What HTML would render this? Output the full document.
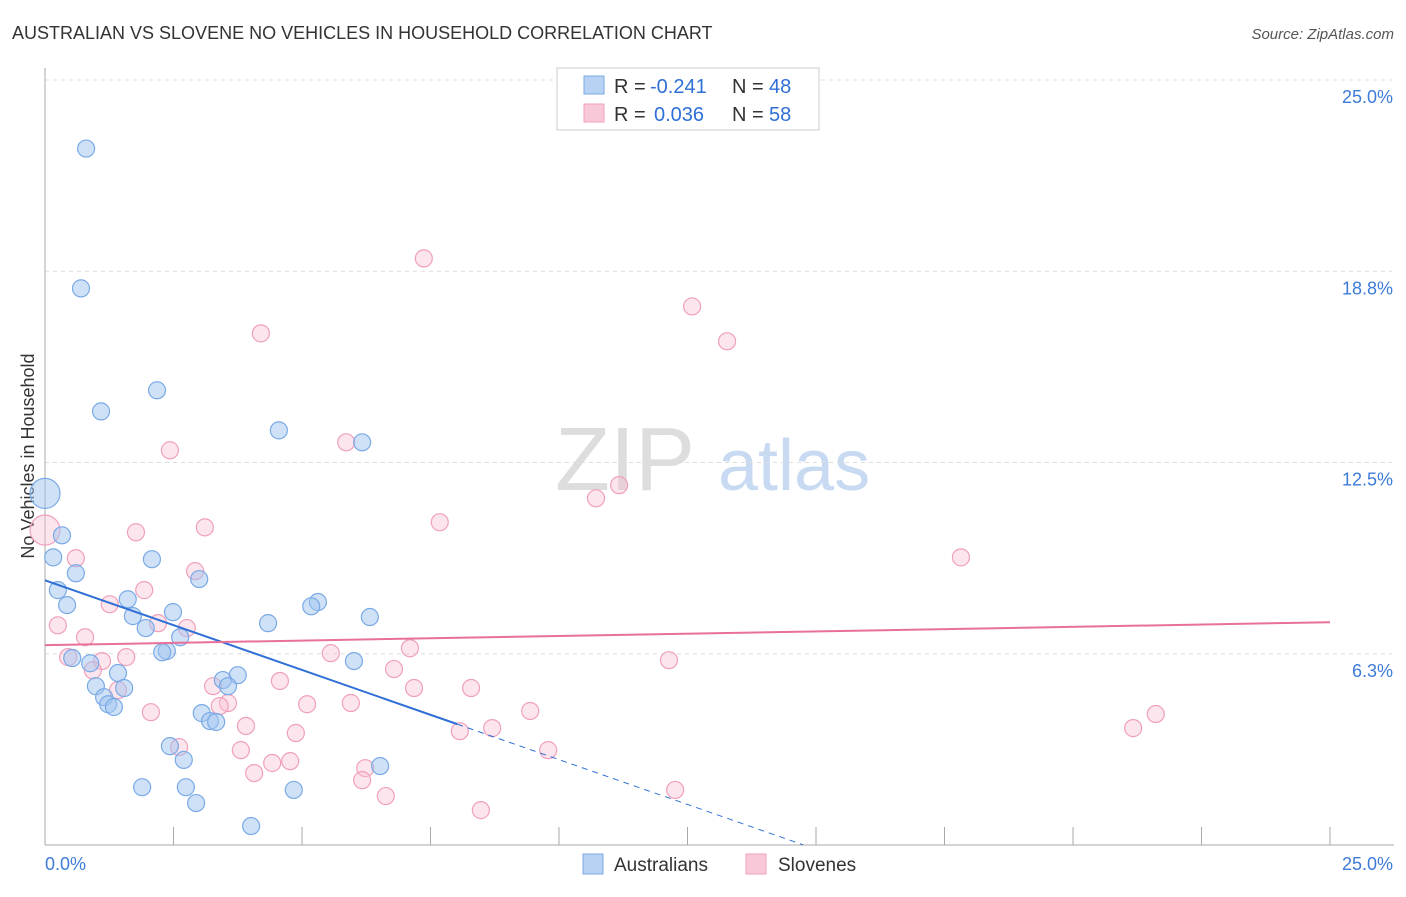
<!DOCTYPE html>
<html><head><meta charset="utf-8"><style>
body{margin:0;background:#fff;font-family:"Liberation Sans",sans-serif;}
svg text{font-family:"Liberation Sans",sans-serif;}
</style></head><body>
<svg id="chart" width="1406" height="892" xmlns="http://www.w3.org/2000/svg">
<text x="12" y="39" font-size="18" fill="#333">AUSTRALIAN VS SLOVENE NO VEHICLES IN HOUSEHOLD CORRELATION CHART</text>
<text x="1394" y="39" font-size="15" fill="#555" text-anchor="end" font-style="italic">Source: ZipAtlas.com</text>
<text transform="translate(34,456) rotate(-90)" font-size="18" fill="#333" text-anchor="middle">No Vehicles in Household</text>
<g><text x="555" y="490" font-size="90" fill="#ddd" font-family="Liberation Serif,serif">ZIP</text><text x="718" y="490" font-size="72" fill="#c8daf2">atlas</text></g>
<g id="grid"></g><g id="axes"></g><g id="marks"></g>
<g>
<rect x="557" y="68" width="262" height="62" fill="#fff" stroke="#ccc"/>
<rect x="584" y="76" width="20" height="18" fill="#b8d2f4" stroke="#7aaae6"/>
<text x="614" y="93" font-size="20" fill="#333">R =</text>
<text x="650" y="93" font-size="20" fill="#2f6fd6">-0.241</text>
<text x="732" y="93" font-size="20" fill="#333">N =</text>
<text x="769" y="93" font-size="20" fill="#2f6fd6">48</text>
<rect x="584" y="104" width="20" height="18" fill="#f9c8d8" stroke="#f0a0bc"/>
<text x="614" y="121" font-size="20" fill="#333">R =</text>
<text x="654" y="121" font-size="20" fill="#2f6fd6">0.036</text>
<text x="732" y="121" font-size="20" fill="#333">N =</text>
<text x="769" y="121" font-size="20" fill="#2f6fd6">58</text>
</g>
<g>
<rect x="583" y="854" width="20" height="20" fill="#b8d2f4" stroke="#7aaae6"/>
<text x="614" y="871" font-size="19" fill="#333">Australians</text>
<rect x="746" y="854" width="20" height="20" fill="#f9c8d8" stroke="#f0a0bc"/>
<text x="778" y="871" font-size="19" fill="#333">Slovenes</text>
</g>
</svg>
<script>
const yTicks=[6.25,12.5,18.75,25];
const yTickLabels=["6.3%","12.5%","18.8%","25.0%"];
const xTickLabels=["0.0%","25.0%"];
const ausX=[0.80,0.70,2.18,1.09,4.55,6.17,0,0.33,0.16,2.08,0.60,3.00,0.25,1.61,0.43,5.31,5.18,2.49,1.71,6.32,4.34,1.96,2.63,2.37,2.28,0.88,0.53,6.01,1.42,3.75,3.46,3.56,0.99,1.54,1.15,1.23,1.34,3.05,3.21,3.33,2.43,2.70,6.52,1.89,2.74,4.84,2.94,4.01];
const ausY=[22.76,18.19,14.86,14.17,13.55,13.16,11.49,10.12,9.40,9.34,8.88,8.69,8.33,8.03,7.84,7.94,7.80,7.61,7.48,7.45,7.25,7.09,6.79,6.34,6.30,5.94,6.11,6.01,5.62,5.55,5.39,5.19,5.19,5.13,4.83,4.60,4.51,4.31,4.05,4.02,3.23,2.78,2.58,1.89,1.89,1.80,1.37,0.62];
const sloX=[7.37,12.59,13.27,4.20,2.43,5.86,11.17,10.72,7.68,0,3.11,1.77,17.82,0.60,2.92,1.93,1.26,0.25,2.20,2.76,0.78,7.10,5.56,0.45,1.58,1.11,12.14,0.93,6.79,3.27,4.57,7.18,8.29,1.42,3.56,5.10,3.40,5.95,2.06,9.44,21.61,3.91,4.88,8.07,8.70,21.17,2.61,3.81,9.79,4.42,4.77,6.23,4.07,6.17,6.63,12.26,8.48];
const sloY=[19.17,17.60,16.46,16.72,12.90,13.16,11.76,11.33,10.55,10.29,10.38,10.22,9.40,9.37,8.95,8.33,7.87,7.18,7.25,7.09,6.79,6.43,6.27,6.14,6.14,6.01,6.04,5.71,5.75,5.19,5.36,5.13,5.13,5.06,4.64,4.60,4.54,4.64,4.34,4.38,4.28,3.89,3.66,3.72,3.82,3.82,3.20,3.10,3.10,2.68,2.74,2.51,2.35,2.12,1.60,1.80,1.14];
const ausBig=[6];const sloBig=[9];
const ausLine=[8.65,-0.586,8.02,14.75];
const sloLine=[6.53,0.030];
const NS="http://www.w3.org/2000/svg";
const X0=45,X1=1330,Y0=845,Y1=80;
const sx=v=>X0+v/25*(X1-X0), sy=v=>Y0-v/25*(Y0-Y1);
function mk(t,a,p){const e=document.createElementNS(NS,t);for(const k in a)e.setAttribute(k,a[k]);p.appendChild(e);return e;}
const grid=document.getElementById('grid'),axes=document.getElementById('axes'),marks=document.getElementById('marks');
yTicks.forEach((v,i)=>{
 const l=mk('line',{x1:X0,x2:X1+62,y1:sy(v),y2:sy(v),stroke:'#ddd','stroke-dasharray':'4,4'},grid);
 
 
 const t=mk('text',{x:1393,y:sy(v)+23,'font-size':18,fill:'#3d7bd8','text-anchor':'end'},axes);t.textContent=yTickLabels[i];
 
 
});
const xa=mk('line',{x1:X0,x2:1394,y1:Y0,y2:Y0,stroke:'#aaa'},axes);


const ya=mk('line',{x1:X0,x2:X0,y1:68,y2:Y0,stroke:'#aaa'},axes);


for(let i=1;i<=10;i++){const tk=mk('line',{x1:sx(i*2.5),x2:sx(i*2.5),y1:Y0,y2:Y0-18,stroke:'#aaa'},axes);
 
 }
[[0,'start',45],[25,'end',1393]].forEach((d,i)=>{const t=mk('text',{x:d[2],y:870,'font-size':18,fill:'#3d7bd8','text-anchor':d[1]},axes);t.textContent=xTickLabels[i];
 
 });
function pts(xs,ys,big,fill,stroke,name){xs.forEach((x,i)=>{const c=mk('circle',{cx:sx(x),cy:sy(ys[i]),r:big.includes(i)?15:8.5,fill:fill,stroke:stroke,'stroke-width':1.2},marks);
 
 });}
pts(sloX,sloY,sloBig,'rgba(248,190,210,0.4)','#f0a0bc','slovene-point');
pts(ausX,ausY,ausBig,'rgba(160,196,240,0.5)','#7aaae6','australian-point');
const bl=mk('line',{x1:sx(0),y1:sy(ausLine[0]),x2:sx(ausLine[2]),y2:sy(ausLine[0]+ausLine[1]*ausLine[2]),stroke:'#2f6fd6','stroke-width':2},marks);


const bd=mk('line',{x1:sx(ausLine[2]),y1:sy(ausLine[0]+ausLine[1]*ausLine[2]),x2:sx(ausLine[3]),y2:sy(ausLine[0]+ausLine[1]*ausLine[3]),stroke:'#2f6fd6','stroke-width':1,'stroke-dasharray':'6,5'},marks);


const pl=mk('line',{x1:sx(0),y1:sy(sloLine[0]),x2:sx(25),y2:sy(sloLine[0]+sloLine[1]*25),stroke:'#e8709a','stroke-width':2},marks);


</script>
</body></html>
